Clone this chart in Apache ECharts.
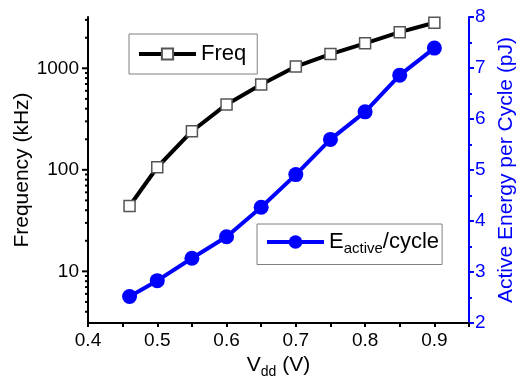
<!DOCTYPE html>
<html>
<head>
<meta charset="utf-8">
<script src="https://cdn.jsdelivr.net/npm/echarts@6/dist/echarts.min.js"></script>
<style>
  html, body { margin: 0; padding: 0; background: #fff; }
  #chart { width: 524px; height: 379px; }
</style>
</head>
<body>
<div id="chart"></div>
<script>
// supply voltage (V)
const vdd = [0.46, 0.5, 0.55, 0.6, 0.65, 0.7, 0.75, 0.8, 0.85, 0.9];
// frequency (kHz), log axis
const freq = [44, 106, 240, 441, 692, 1040, 1380, 1760, 2270, 2810];
// active energy per cycle (pJ)
const energy = [2.52, 2.83, 3.27, 3.69, 4.27, 4.91, 5.60, 6.14, 6.86, 7.39];

// tick positions of the log axis
const logMajor = [10, 100, 1000];
const logMinor = [4, 5, 6, 7, 8, 9, 20, 30, 40, 50, 60, 70, 80, 90,
  200, 300, 400, 500, 600, 700, 800, 900, 2000, 3000];

const FONT = '"Liberation Sans", Arial, sans-serif';
const BLUE = '#0000ff';

const chart = echarts.init(document.getElementById('chart'));

const X_MIN = 0.4;
const logRange = {min: 3.1, max: 3200};

const option = {
  animation: false,
  textStyle: {fontFamily: FONT},
  grid: {left: 88, right: 55, top: 17, bottom: 56, containLabel: false, outerBoundsMode: 'none'},
  legend: [
    {
      data: ['Freq'],
      left: 129, top: 34,
      borderColor: '#808080', borderWidth: 1,
      padding: [9, 11, 9, 8],
      itemWidth: 57, itemHeight: 14, itemGap: 6,
      lineStyle: {width: 4},
      textStyle: {fontSize: 22, color: '#000', fontFamily: FONT}
    },
    {
      data: ['Eactive'],
      left: 257, top: 224,
      borderColor: '#808080', borderWidth: 1,
      padding: [7, 3, 8, 8],
      itemWidth: 57, itemHeight: 17, itemGap: 6,
      lineStyle: {width: 4},
      formatter: () => '{a|E}{b|active}{a|/cycle}',
      textStyle: {
        color: '#000', fontFamily: FONT,
        rich: {
          a: {fontSize: 22, color: '#000', fontFamily: FONT},
          b: {fontSize: 15, color: '#000', fontFamily: FONT, padding: [14, 0, 0, 0]}
        }
      }
    }
  ],
  xAxis: {
    type: 'value',
    min: X_MIN, max: 0.95, interval: 0.1,
    name: '{a|V}{b|dd}{a| (V)}',
    nameLocation: 'middle',
    nameGap: 24,
    nameTextStyle: {
      rich: {
        a: {fontSize: 21, color: '#000', fontFamily: FONT},
        b: {fontSize: 14, color: '#000', fontFamily: FONT, padding: [14, 0, 0, 0]}
      }
    },
    axisLine: {lineStyle: {color: '#000', width: 2}},
    axisTick: {length: 4, lineStyle: {width: 2, color: '#000'}},
    minorTick: {show: true, splitNumber: 2, length: 4, lineStyle: {width: 2, color: '#000'}},
    axisLabel: {fontSize: 19, color: '#000', margin: 8, showMaxLabel: false,
      formatter: v => v.toFixed(1)},
    splitLine: {show: false}
  },
  yAxis: [
    {
      type: 'log',
      position: 'left',
      min: logRange.min, max: logRange.max,
      name: 'Frequency (kHz)',
      nameLocation: 'middle',
      nameRotate: 90,
      nameGap: 55,
      nameMoveOverlap: false,
      nameTextStyle: {fontSize: 21, color: '#000', fontFamily: FONT},
      axisLine: {show: true, lineStyle: {color: '#000', width: 2}},
      axisTick: {show: false},
      axisLabel: {fontSize: 19, color: '#000', margin: 9, customValues: logMajor,
        formatter: v => String(Math.round(v))},
      splitLine: {show: false}
    },
    {
      type: 'value',
      position: 'right',
      min: 2, max: 8, interval: 1,
      name: 'Active Energy per Cycle (pJ)',
      nameLocation: 'middle',
      nameRotate: 90,
      nameGap: 27,
      nameMoveOverlap: false,
      nameTextStyle: {fontSize: 21, color: BLUE, fontFamily: FONT},
      axisLine: {show: true, lineStyle: {color: BLUE, width: 2}},
      axisTick: {length: 5, lineStyle: {width: 2, color: BLUE}},
      minorTick: {show: true, splitNumber: 2, length: 3, lineStyle: {width: 2, color: BLUE}},
      axisLabel: {fontSize: 19, color: BLUE, margin: 6},
      splitLine: {show: false}
    }
  ],
  series: [
    {
      name: 'Freq',
      type: 'line',
      yAxisIndex: 0,
      data: vdd.map((v, i) => [v, freq[i]]),
      symbol: 'rect',
      symbolSize: 11,
      lineStyle: {color: '#000', width: 4},
      itemStyle: {color: '#fff', borderColor: '#555', borderWidth: 1.5},
      z: 3
    },
    {
      name: 'Eactive',
      type: 'line',
      yAxisIndex: 1,
      data: vdd.map((v, i) => [v, energy[i]]),
      symbol: 'circle',
      symbolSize: 15,
      lineStyle: {color: BLUE, width: 4},
      itemStyle: {color: BLUE},
      z: 4
    }
  ]
};

chart.setOption(option);

// log axis ticks: positions come from the chart's own scales
const axisX = chart.convertToPixel({xAxisIndex: 0}, X_MIN);
const tickMark = (v, len) => {
  const y = chart.convertToPixel({yAxisIndex: 0}, v);
  return {
    type: 'line',
    silent: true,
    z: 100,
    shape: {x1: axisX - len, y1: y, x2: axisX, y2: y},
    style: {stroke: '#000', lineWidth: 2}
  };
};
chart.setOption({
  graphic: logMajor.map(v => tickMark(v, 6)).concat(logMinor.map(v => tickMark(v, 3)))
});
</script>
</body>
</html>
